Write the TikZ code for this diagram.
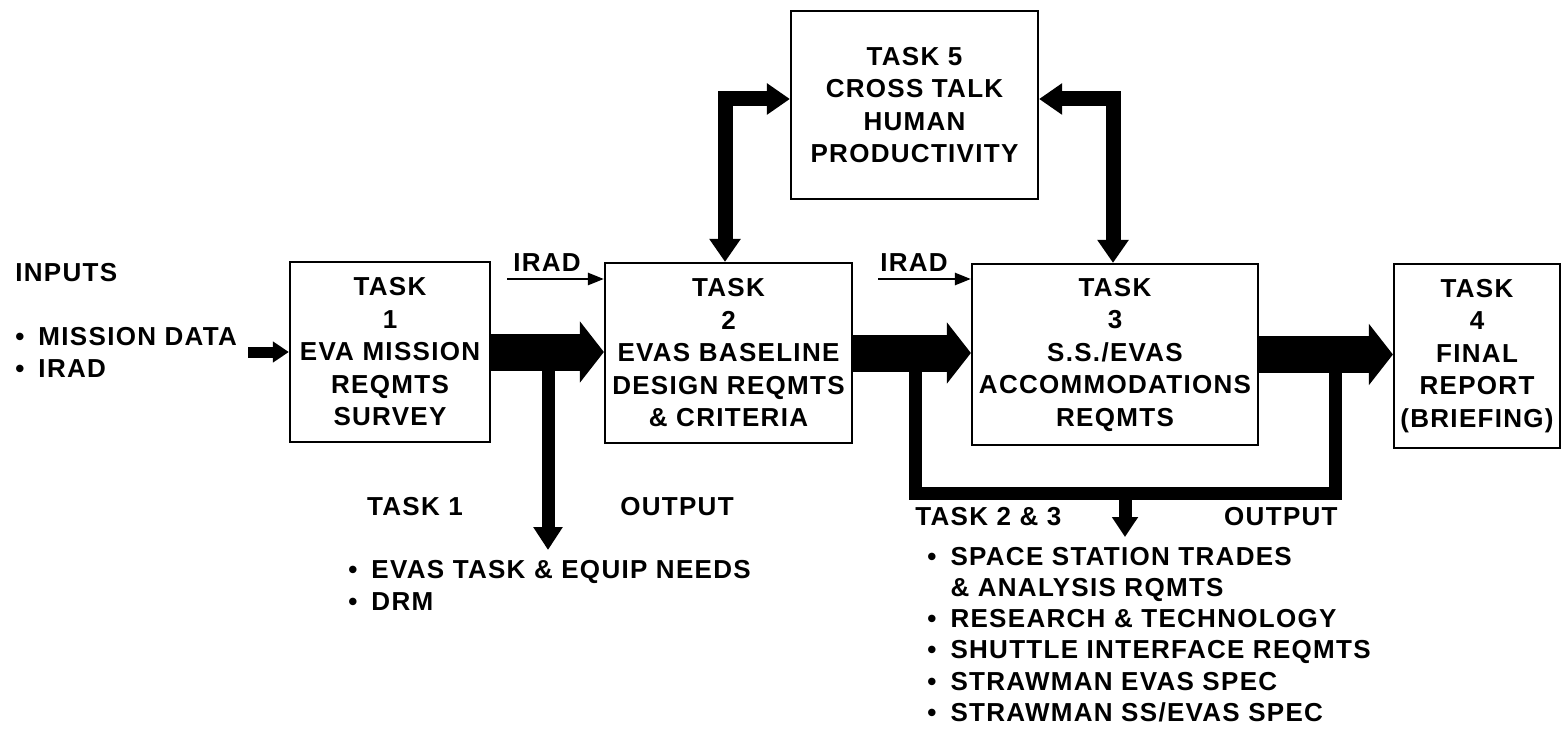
\documentclass[tikz,border=0pt]{standalone}
\usepackage{fontspec}
\newfontfamily\diafont[LetterSpace=5]{Liberation Sans}
\usetikzlibrary{arrows.meta}
\newcommand\bul{•\hspace{7pt}}
\tikzset{
  % every text of the chart
  every node/.style={font=\diafont\bfseries\fontsize{13}{16.25}\selectfont},
  % boxes of the tasks
  taskbox/.style={draw, line width=1.1pt, align=center, inner sep=1pt},
  % plain labels and lists
  lbl/.style={inner sep=0pt},
  lst/.style={inner sep=0pt, align=left, font=\diafont\bfseries\fontsize{13}{15.6}\selectfont},
  % wide flow arrows from task to task
  flow/.style={line width=18.5pt, -{Triangle[length=12pt,width=30pt]}},
  % outputs going down
  drop/.style={line width=6.5pt, line join=miter, -{Triangle[length=11.5pt,width=14pt]}},
  bus/.style={line width=6.5pt, line join=miter},
  % links to task 5
  link/.style={line width=7.5pt, line join=miter,
    {Triangle[length=11.5pt,width=15pt]}-{Triangle[length=11.5pt,width=15pt]}},
  thin/.style={line width=1.3pt, -{Triangle[length=8pt,width=6pt]}},
  inarrow/.style={line width=5.5pt, -{Triangle[length=8pt,width=10pt]}},
}
\begin{document}
\begin{tikzpicture}[x=0.5pt,y=-0.5pt]
\useasboundingbox (0,0) rectangle (1566,737);

% tasks
\node[taskbox, minimum width=100pt, minimum height=90pt] (t1) at (390,352) {TASK\\1\\EVA MISSION\\REQMTS\\SURVEY};
\node[taskbox, minimum width=123.5pt, minimum height=90pt] (t2) at (728.5,353) {TASK\\2\\EVAS BASELINE\\DESIGN REQMTS\\\& CRITERIA};
\node[taskbox, minimum width=143pt, minimum height=90.5pt] (t3) at (1115,354.5) {TASK\\3\\S.S./EVAS\\ACCOMMODATIONS\\REQMTS};
\node[taskbox, minimum width=83pt, minimum height=92pt] (t4) at (1477,356) {TASK\\4\\FINAL\\REPORT\\(BRIEFING)};
\node[taskbox, minimum width=123.5pt, minimum height=94pt] (t5) at (914.5,105) {TASK 5\\CROSS TALK\\HUMAN\\PRODUCTIVITY};

% inputs
\node[lbl, anchor=west] (inputs) at (15,273) {INPUTS};
\node[lst, anchor=west] (inlist) at (15,352.5) {\bul MISSION DATA\\\bul IRAD};
\node[lbl] (irad1) at (547,263) {IRAD};
\node[lbl] (irad2) at (914,263) {IRAD};
\coordinate (inp) at (248,352);
\coordinate (ir1) at (507,279);
\coordinate (ir2) at (878,279);

% outputs
\node[lbl] (out1a) at (415,507) {TASK 1};
\node[lbl] (out1b) at (677,507) {OUTPUT};
\node[lst, anchor=west] (out1) at (348,585.5) {\bul EVAS TASK \& EQUIP NEEDS\\\bul DRM};
\node[lbl, anchor=west] (out23a) at (915,517) {TASK 2 \& 3};
\node[lbl, anchor=east] (out23b) at (1338,517) {OUTPUT};
\node[lst, anchor=west] (out23) at (927,634.5) {\bul SPACE STATION TRADES\\\phantom{\bul}\& ANALYSIS RQMTS\\\bul RESEARCH \& TECHNOLOGY\\\bul SHUTTLE INTERFACE REQMTS\\\bul STRAWMAN EVAS SPEC\\\bul STRAWMAN SS/EVAS SPEC};

% flow
\draw[inarrow] (inp) -- (inp -| t1.west);
\draw[thin] (ir1) -- (ir1 -| t2.west);
\draw[thin] (ir2) -- (ir2 -| t3.west);
\draw[flow] (t1.east) -- (t1.east -| t2.west);
\draw[flow] (t2.east) -- (t2.east -| t3.west);
\draw[flow] (t3.east) -- (t3.east -| t4.west);

\coordinate (d1) at (548,352);
\coordinate (d1e) at (548,550);
\draw[drop] (d1) -- (d1e);

\coordinate (b2) at (915,353);
\coordinate (b3) at (1335,354.5);
\coordinate (bb) at (1125,493);
\coordinate (bout) at (1125,537);
\draw[bus] (b2) |- (bb) -| (b3);
\draw[drop, -{Triangle[length=10pt,width=12.5pt]}] (bb) -- (bout);

\coordinate (k2) at (725,99);
\coordinate (k3) at (1113,99);
\draw[link] (k2 |- t2.north) -- (k2) -- (k2 -| t5.west);
\draw[link] (k3 |- t3.north) -- (k3) -- (k3 -| t5.east);

\end{tikzpicture}
\end{document}
